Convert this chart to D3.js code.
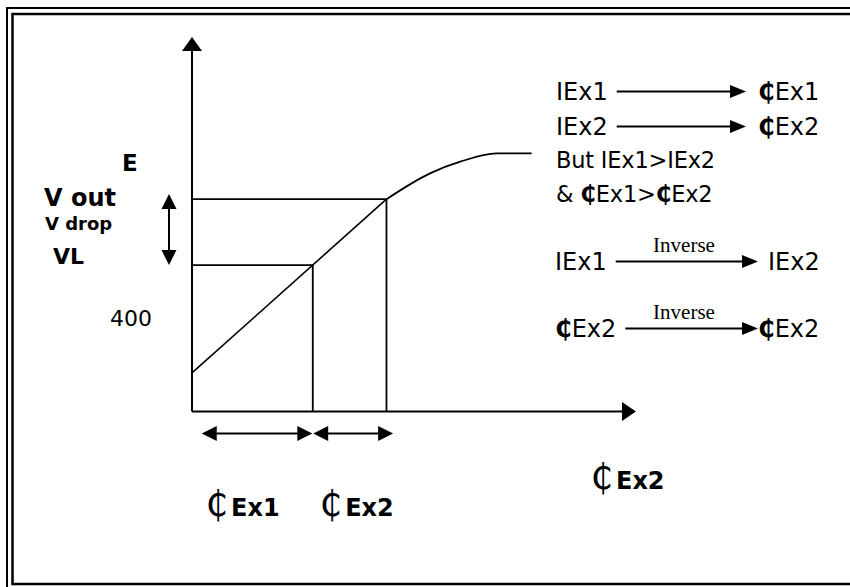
<!DOCTYPE html>
<html>
<head>
<meta charset="utf-8">
<script src="https://cdn.jsdelivr.net/npm/d3@7"></script>
<style>
  html, body { margin: 0; padding: 0; background: #fff; }
  svg { display: block; }
  text { font-family: "DejaVu Sans", Verdana, sans-serif; fill: #000; }
</style>
</head>
<body>
<div id="chart"></div>
<script>
// values (x = excitation current, y = E)
const currentMarks = [2.72, 4.38];
const voltMarks = [3.91, 5.67];
const lineX = [0, 4.38];
const lineY = [1.03, 5.67];
const curveX = [4.38, 5.36, 6.04, 6.86, 7.65];
const curveY = [5.67, 6.36, 6.67, 6.89, 6.89];
const spanArrows = [[0.22, 2.71], [2.73, 4.53]];
const dropArrow = [3.91, 5.81];
const levelValue = 2.55;

// labels
const currentLabels = ["Ex1", "Ex2"];
const axisLabelY = "E";
const axisLabelX = "Ex2";
const levelLabel = "400";
const voltLabels = ["V out", "V drop", "VL"];
const mapLines = [["IEx1", "₵Ex1"], ["IEx2", "₵Ex2"]];
const noteLines = ["But IEx1>IEx2", "& ₵Ex1>₵Ex2"];
const inverseLines = [["IEx1", "IEx2"], ["₵Ex2", "₵Ex2"]];
const inverseWord = "Inverse";

const width = 850, height = 587;

const xScale = d3.scaleLinear().domain([0, 10]).range([192, 636]);
const yScale = d3.scaleLinear().domain([0, 10]).range([411.5, 37]);

const svg = d3.select("#chart").append("svg")
    .attr("width", width)
    .attr("height", height);

// double frame (runs off the right / bottom edge like the original)
svg.append("rect")
    .attr("x", 7).attr("y", 8)
    .attr("width", 900).attr("height", 600)
    .attr("fill", "none").attr("stroke", "#000").attr("stroke-width", 2);
svg.append("rect")
    .attr("x", 12.5).attr("y", 14)
    .attr("width", 900).attr("height", 570)
    .attr("fill", "none").attr("stroke", "#000").attr("stroke-width", 2.5);

function arrowHead(g, x, y, dir, len, half) {
    const pts = {
        up: [[x, y], [x - half, y + len], [x + half, y + len]],
        down: [[x, y], [x - half, y - len], [x + half, y - len]],
        left: [[x, y], [x + len, y - half], [x + len, y + half]],
        right: [[x, y], [x - len, y - half], [x - len, y + half]]
    }[dir];
    g.append("path")
        .attr("d", "M" + pts.join("L") + "Z")
        .attr("fill", "#000");
}

function hLine(g, x1, x2, y, w) {
    g.append("line")
        .attr("x1", x1).attr("x2", x2)
        .attr("y1", y).attr("y2", y)
        .attr("stroke", "#000").attr("stroke-width", w || 2);
}

function vLine(g, x, y1, y2, w) {
    g.append("line")
        .attr("x1", x).attr("x2", x)
        .attr("y1", y1).attr("y2", y2)
        .attr("stroke", "#000").attr("stroke-width", w || 2);
}

// bold cedi sign inside otherwise normal text
function richText(sel, str) {
    str.split(/(₵)/).filter(s => s).forEach(s => {
        sel.append("tspan")
            .text(s)
            .style("font-weight", s === "₵" ? "bold" : "normal");
    });
}

const plot = svg.append("g").attr("class", "plot");

// axes with arrow heads
vLine(plot, xScale(0), yScale(0), yScale(10) + 12);
arrowHead(plot, xScale(0), yScale(10), "up", 14, 10);
hLine(plot, xScale(0), xScale(10) - 12, yScale(0));
arrowHead(plot, xScale(10), yScale(0), "right", 14, 9.5);

// operating point boxes
currentMarks.forEach((c, i) => {
    hLine(plot, xScale(0), xScale(c), yScale(voltMarks[i]), 1.8);
    vLine(plot, xScale(c), yScale(0), yScale(voltMarks[i]), 1.8);
});

// straight part + saturation curve
const line = d3.line()
    .x(d => xScale(d[0]))
    .y(d => yScale(d[1]));

plot.append("path")
    .datum(d3.zip(lineX, lineY))
    .attr("d", line)
    .attr("fill", "none")
    .attr("stroke", "#000")
    .attr("stroke-width", 1.6);

plot.append("path")
    .datum(d3.zip(curveX, curveY))
    .attr("d", line.curve(d3.curveMonotoneX))
    .attr("fill", "none")
    .attr("stroke", "#000")
    .attr("stroke-width", 1.8);

// span arrows under the x axis
const spanY = yScale(0) + 22;
spanArrows.forEach(s => {
    hLine(plot, xScale(s[0]) + 10, xScale(s[1]) - 10, spanY, 2);
    arrowHead(plot, xScale(s[0]), spanY, "left", 15, 7.5);
    arrowHead(plot, xScale(s[1]), spanY, "right", 15, 7.5);
});

// voltage drop arrow left of the y axis
const dropX = xScale(0) - 23;
vLine(plot, dropX, yScale(dropArrow[1]) + 10, yScale(dropArrow[0]) - 10, 2);
arrowHead(plot, dropX, yScale(dropArrow[1]), "up", 15, 7.5);
arrowHead(plot, dropX, yScale(dropArrow[0]), "down", 15, 7.5);

// current labels along the bottom
function cediLabel(x, y, sub) {
    const t = svg.append("text").attr("x", x).attr("y", y);
    t.append("tspan").text("₵").style("font-size", "35px");
    t.append("tspan").text(sub)
        .attr("dx", 3)
        .style("font-size", "24px")
        .style("font-weight", "bold");
}
currentLabels.forEach((lab, i) => {
    cediLabel(xScale(i === 0 ? 0.31 : 2.88), 516, lab);
});
cediLabel(xScale(8.98), 489, axisLabelX);

// y-side labels
svg.append("text")
    .attr("x", 122).attr("y", 171)
    .style("font-size", "23px").style("font-weight", "bold")
    .text(axisLabelY);

const voltSizes = [24, 18, 22];
const voltX = [44, 45, 53];
const voltY = [206, 230, 264];
voltLabels.forEach((lab, i) => {
    svg.append("text")
        .attr("x", voltX[i]).attr("y", voltY[i])
        .style("font-size", voltSizes[i] + "px")
        .style("font-weight", "bold")
        .text(lab);
});

svg.append("text")
    .attr("x", 110).attr("y", yScale(levelValue) + 10)
    .style("font-size", "22px")
    .text(levelLabel);

// notes on the right
const notes = svg.append("g").attr("class", "notes").style("font-size", "24px");
const leftX = 556;

mapLines.forEach((row, i) => {
    const y = 100 + i * 35;
    const t = notes.append("text").attr("x", leftX).attr("y", y);
    richText(t, row[0]);
    const end = leftX + t.node().getComputedTextLength();
    hLine(notes, end + 9, 733, y - 8.5, 2);
    arrowHead(notes, 746, y - 8.5, "right", 16, 6.5);
    richText(notes.append("text").attr("x", 758).attr("y", y), row[1]);
});

noteLines.forEach((row, i) => {
    const t = notes.append("text")
        .attr("x", leftX).attr("y", 168 + i * 34)
        .style("font-size", "22.5px")
        .style("letter-spacing", "-0.2px");
    richText(t, row);
});

const inverseGap = [10, 0];
inverseLines.forEach((row, i) => {
    const y = 270 + i * 67;
    const t = notes.append("text").attr("x", leftX - 1).attr("y", y);
    richText(t, row[0]);
    const end = leftX - 1 + t.node().getComputedTextLength();
    hLine(notes, end + 9, 745, y - 8.5, 2);
    arrowHead(notes, 758, y - 8.5, "right", 16, 6.5);
    richText(notes.append("text").attr("x", 758 + inverseGap[i]).attr("y", y), row[1]);
    notes.append("text")
        .attr("x", 684).attr("y", y - 18)
        .attr("text-anchor", "middle")
        .style("font-family", "'Liberation Serif', 'Times New Roman', serif")
        .style("font-size", "21px")
        .text(inverseWord);
});
</script>
</body>
</html>
